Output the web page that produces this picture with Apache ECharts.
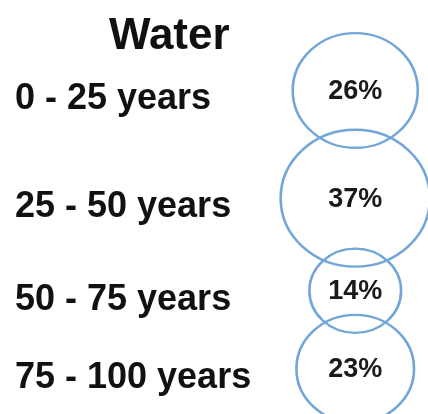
<!DOCTYPE html>
<html>
<head>
<meta charset="utf-8">
<style>
html,body{margin:0;padding:0;background:#fff;}
#chart{width:428px;height:414px;}
</style>
<script src="https://cdn.jsdelivr.net/npm/echarts@6/dist/echarts.min.js"></script>
</head>
<body>
<div id="chart"></div>
<script>
// ---- data ----
const chartTitle = 'Water';
const categories = ['0 - 25 years', '25 - 50 years', '50 - 75 years', '75 - 100 years'];
const values = [26, 37, 14, 23]; // percent

// ---- layout (circle area proportional to value, circles stacked vertically) ----
const PX_PER_UNIT = 22.5;   // pixels per sqrt(percent) for circle height
const ASPECT = 1.09;        // width/height of the ellipses
const OVERLAP = 0.8;        // overlap between neighbouring circles, in sqrt-units
const TOP = 1.47;           // top of first circle, in sqrt-units
const H = 414;
const Y_MAX = H / PX_PER_UNIT;
const CIRCLE_X = 83;        // percent of width
const LABEL_X = 3.5;        // percent of width

const centers = [];
let cursor = TOP;
values.forEach(v => {
  const h = Math.sqrt(v);
  const c = cursor + h / 2;
  centers.push(c);
  cursor = c + h / 2 - OVERLAP;
});

const circleData = values.map((v, i) => ({
  value: [CIRCLE_X, centers[i], v],
  symbolSize: [Math.sqrt(v) * PX_PER_UNIT * ASPECT, Math.sqrt(v) * PX_PER_UNIT]
}));
const labelData = categories.map((c, i) => ({ value: [LABEL_X, centers[i]], name: c }));

const chart = echarts.init(document.getElementById('chart'), null, { renderer: 'canvas' });
chart.setOption({
  backgroundColor: '#ffffff',
  animation: false,
  title: {
    text: chartTitle,
    left: 104,
    top: 10,
    textStyle: { fontFamily: 'Liberation Sans, Arial, sans-serif', fontWeight: 'bold', fontSize: 44, color: '#111111' }
  },
  grid: { left: 0, right: 0, top: 0, bottom: 0 },
  xAxis: { type: 'value', min: 0, max: 100, show: false },
  yAxis: { type: 'value', min: 0, max: Y_MAX, inverse: true, show: false },
  series: [
    {
      type: 'scatter',
      clip: false,
      symbol: 'circle',
      data: circleData,
      itemStyle: { color: 'rgba(0,0,0,0)', borderColor: '#72a6d8', borderWidth: 2.5, opacity: 1 },
      label: {
        show: true,
        position: 'inside',
        offset: [0, 1],
        formatter: p => p.data.value[2] + '%',
        fontFamily: 'Liberation Sans, Arial, sans-serif',
        fontWeight: 'bold',
        fontSize: 27,
        color: '#1a1a1a'
      },
      emphasis: { disabled: true }
    },
    {
      type: 'scatter',
      clip: false,
      symbolSize: 0,
      data: labelData,
      itemStyle: { opacity: 1 },
      label: {
        show: true,
        position: 'right',
        distance: 0,
        offset: [0, 9],
        formatter: p => p.name,
        fontFamily: 'Liberation Sans, Arial, sans-serif',
        fontWeight: 'bold',
        fontSize: 36,
        color: '#111111'
      },
      emphasis: { disabled: true }
    }
  ]
});
</script>
</body>
</html>
